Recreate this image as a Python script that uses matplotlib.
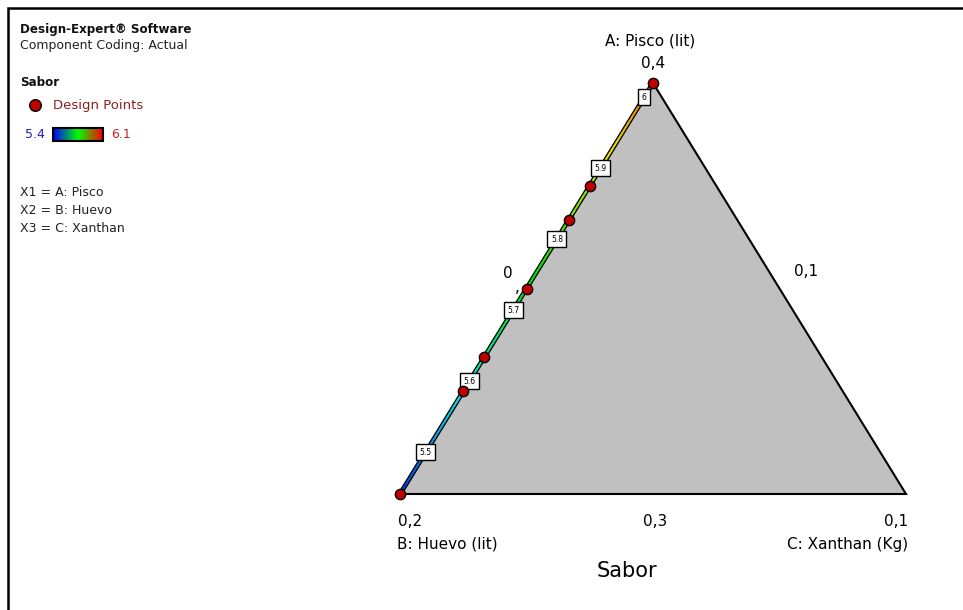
import numpy as np
import matplotlib
matplotlib.use("Agg")
import matplotlib.pyplot as plt
from matplotlib.collections import LineCollection
from matplotlib.colors import LinearSegmentedColormap, Normalize

plt.rcParams['font.family'] = ['DejaVu Sans']

# ---- data ----
# design points on the A-B edge, as pseudo-component fraction of A
design_a = [0.0, 0.25, 0.333, 0.5, 0.667, 0.75, 1.0]
# fitted linear response for Sabor along the A-B edge: b0 + b1 * A
sabor_b0 = 5.441
sabor_b1 = 0.579
contour_levels = [5.5, 5.6, 5.7, 5.8, 5.9, 6.0]
contour_labels = ["5.5", "5.6", "5.7", "5.8", "5.9", "6"]
color_range = (5.4, 6.1)

vertex_titles = ["A: Pisco (lit)", "B: Huevo (lit)", "C: Xanthan (Kg)"]
vertex_values = ["0,4", "0,2", "0,1"]
bottom_mid = "0,3"
right_mid = "0,1"
factor_lines = ["X1 = A: Pisco", "X2 = B: Huevo", "X3 = C: Xanthan"]

W, H = 963, 610
fig = plt.figure(figsize=(W / 100, H / 100), dpi=100)

# overlay in pixel units for annotations
ov = fig.add_axes([0, 0, 1, 1])
ov.set_xlim(0, W)
ov.set_ylim(H, 0)
ov.axis('off')

# outer frame (top and left)
ov.plot([7.5, 7.5, W], [H, 7.5, 7.5], color='black', lw=1.8, solid_joinstyle='miter')

# ternary axes: B at (0,0), C at (1,0), A at (0.5,1)
x0, y0, x1, y1 = 400, 83, 906, 494
tax = fig.add_axes([x0 / W, 1 - y1 / H, (x1 - x0) / W, (y1 - y0) / H])
tax.set_xlim(0, 1)
tax.set_ylim(0, 1)
tax.axis('off')


def tern(a, c):
    a = np.asarray(a, dtype=float)
    c = np.asarray(c, dtype=float)
    return 0.5 * a + c, a


cmap = LinearSegmentedColormap.from_list(
    'de', ['#0000ff', '#00ffff', '#00ff00', '#ffff00', '#ff0000'])
norm = Normalize(*color_range)

# gray simplex
tx, ty = tern([1, 0, 0], [0, 0, 1])
tax.fill(tx, ty, color='#c0c0c0', lw=0, zorder=1)
# right and bottom edges
tax.plot([0.5, 1, 0], [1, 0, 0], color='black', lw=1.5, zorder=2,
         solid_joinstyle='miter', clip_on=False)

# response along the A-B edge
t = np.linspace(0, 1, 300)
ex, ey = tern(t, np.zeros_like(t))
tax.plot(ex, ey, color='black', lw=3.4, zorder=3, clip_on=False,
         solid_capstyle='butt')
pts = np.column_stack([ex, ey]).reshape(-1, 1, 2)
segs = np.concatenate([pts[:-1], pts[1:]], axis=1)
resp = sabor_b0 + sabor_b1 * 0.5 * (t[:-1] + t[1:])
lc = LineCollection(segs, cmap=cmap, norm=norm, linewidths=1.5, zorder=4,
                    clip_on=False)
lc.set_array(resp)
tax.add_collection(lc)

# contour labels
for lev, lab in zip(contour_levels, contour_labels):
    ta = (lev - sabor_b0) / sabor_b1
    cx, cy = tern(ta, 0)
    tax.text(cx, cy, lab, fontsize=5.5, ha='center', va='center', zorder=6,
             clip_on=False,
             bbox=dict(boxstyle='square,pad=0.45', fc='white', ec='black', lw=1.0))

# design points
dx, dy = tern(design_a, np.zeros(len(design_a)))
tax.scatter(dx, dy, s=55, c='#c00000', edgecolors='black', linewidths=1.0,
            zorder=7, clip_on=False)

# vertex and edge annotations
fs = 11
ov.text(650, 41, vertex_titles[0], fontsize=fs, ha='center', va='center')
ov.text(653, 64, vertex_values[0], fontsize=fs, ha='center', va='center')
ov.text(806, 272, right_mid, fontsize=fs, ha='center', va='center')
ov.text(398, 521, vertex_values[1], fontsize=fs, ha='left', va='center')
ov.text(397, 544, vertex_titles[1], fontsize=fs, ha='left', va='center')
ov.text(655, 521, bottom_mid, fontsize=fs, ha='center', va='center')
ov.text(908, 521, vertex_values[2], fontsize=fs, ha='right', va='center')
ov.text(908, 544, vertex_titles[2], fontsize=fs, ha='right', va='center')
ov.text(508, 273, "0", fontsize=fs, ha='center', va='center')
ov.text(517, 287, ",", fontsize=fs, ha='center', va='center')
ov.text(627, 571, "Sabor", fontsize=15, ha='center', va='center')

# legend block
lfs = 9
ov.text(20, 30, "Design-Expert® Software", fontsize=8.6, fontweight='bold',
        ha='left', va='center', color='#111111')
ov.text(20, 46, "Component Coding: Actual", fontsize=lfs, ha='left', va='center',
        color='#222222')
ov.text(20, 83, "Sabor", fontsize=8.6, fontweight='bold', ha='left', va='center',
        color='#111111')
ov.scatter([35], [105], s=70, c='#c00000', edgecolors='black', linewidths=1.0)
ov.text(53, 105, "Design Points", fontsize=9.5, ha='left', va='center',
        color='#8b2020')
ov.text(25, 135, "5.4", fontsize=lfs, ha='left', va='center', color='#2020b0')
ov.text(111, 135, "6.1", fontsize=lfs, ha='left', va='center', color='#c02020')
grad = np.linspace(0, 1, 64).reshape(1, -1)
bar_cmap = LinearSegmentedColormap.from_list('bar', ['#0000ff', '#00ff00', '#ff0000'])
ov.imshow(grad, cmap=bar_cmap, aspect='auto', extent=(53, 103, 141, 128), zorder=3)
ov.add_patch(plt.Rectangle((53, 128), 50, 13, fill=False, ec='black', lw=1.5, zorder=4))
ov.set_xlim(0, W)
ov.set_ylim(H, 0)
for i, s in enumerate(factor_lines):
    ov.text(20, 193 + 18 * i, s, fontsize=lfs, ha='left', va='center', color='#222222')

fig.savefig("out.png", dpi=100, facecolor='white')
